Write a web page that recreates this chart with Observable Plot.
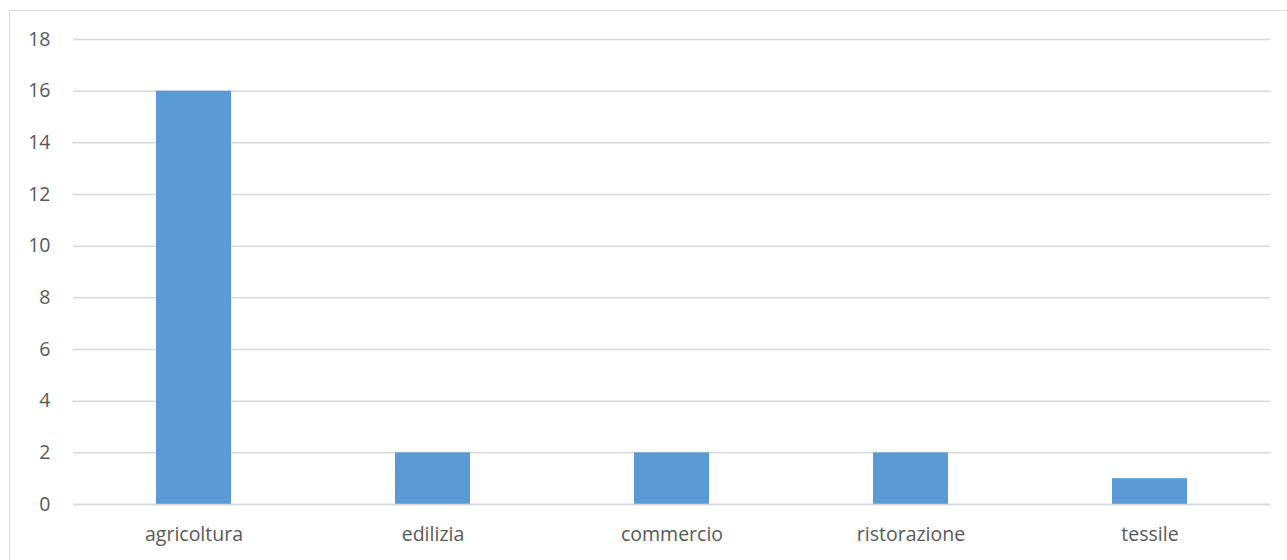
<!DOCTYPE html>
<html>
<head>
<meta charset="utf-8">
<script src="https://cdn.jsdelivr.net/npm/d3@7"></script>
<script src="https://cdn.jsdelivr.net/npm/@observablehq/plot@0.6"></script>
<style>
  html, body { margin: 0; padding: 0; background: #fff; overflow: hidden; }
  #frame { position: absolute; left: 9px; top: 10px; width: 1320px; height: 620px; border: 1.5px solid #d9d9d9; box-sizing: border-box; }
  #chart { position: absolute; left: 0; top: 0; }
</style>
</head>
<body>
<div id="frame"></div>
<div id="chart"></div>
<script>
const categories = ["agricoltura", "edilizia", "commercio", "ristorazione", "tessile"];
const values = [16, 2, 2, 2, 1];
const yTicks = [0, 2, 4, 6, 8, 10, 12, 14, 16, 18];

const data = categories.map((c, i) => ({category: c, value: values[i]}));

const chart = Plot.plot({
  width: 1287,
  height: 560,
  marginLeft: 73,
  marginRight: 17,
  marginTop: 39,
  marginBottom: 56,
  style: {fontFamily: "'Open Sans', sans-serif", fontSize: "19.5px", color: "#595959", background: "transparent"},
  x: {domain: categories, paddingInner: 0.687, paddingOuter: 0.3435, align: 0.5, label: null, tickSize: 0, tickPadding: 23},
  y: {domain: [0, 18], ticks: yTicks, label: null, tickSize: 0, tickPadding: 23},
  marks: [
    Plot.gridY(yTicks, {stroke: "#d9d9d9", strokeOpacity: 1, strokeWidth: 1.5}),
    Plot.barY(data, {x: "category", y: "value", fill: "#5B9BD5"}),
    Plot.ruleY([0], {stroke: "#d9d9d9", strokeWidth: 1.5})
  ]
});
document.getElementById("chart").appendChild(chart);
</script>
</body>
</html>
